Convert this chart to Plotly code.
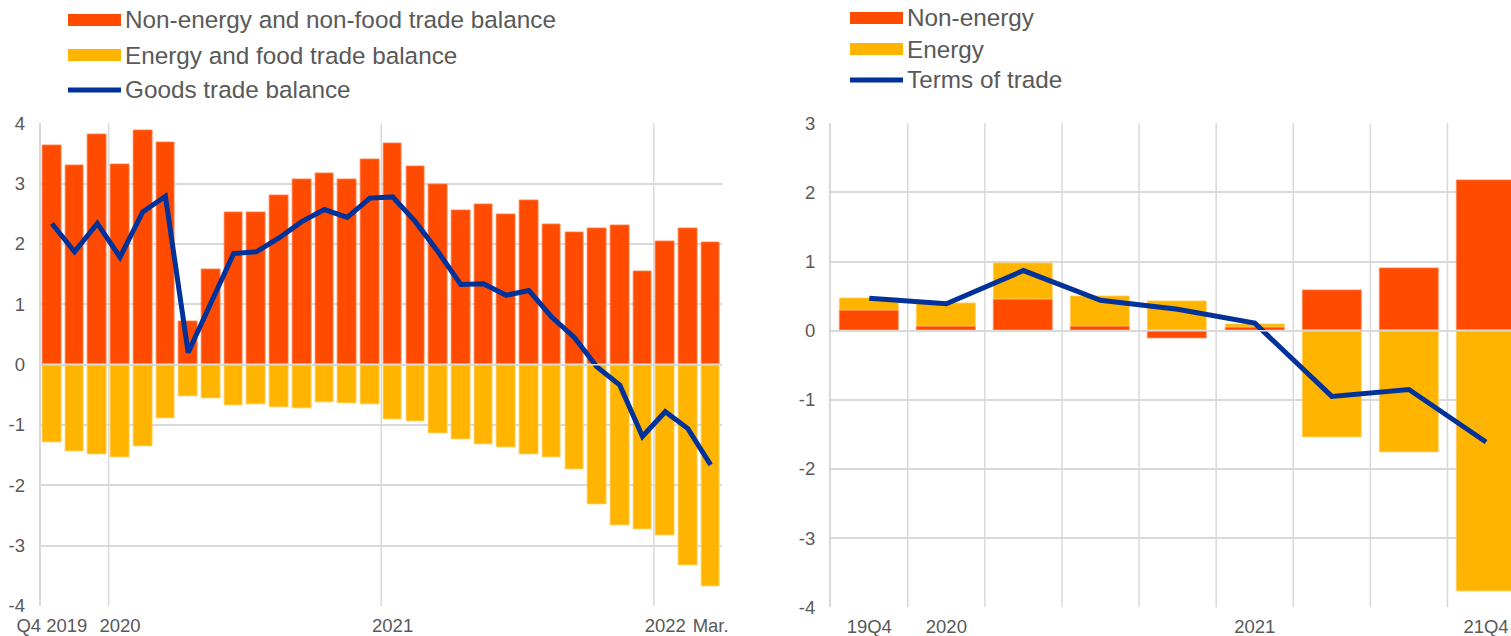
import pandas as pd
import plotly.graph_objects as go

# ---------------- data: left panel (monthly, Oct 2019 - Mar 2022) ----------------
months = pd.date_range("2019-10-01", periods=30, freq="MS").strftime("%Y-%m").tolist()
non_energy_food = [3.63, 3.31, 3.82, 3.32, 3.89, 3.68, 0.72, 1.58, 2.52, 2.52,
                   2.80, 3.07, 3.17, 3.07, 3.41, 3.67, 3.28, 2.99, 2.56, 2.66,
                   2.49, 2.73, 2.32, 2.19, 2.26, 2.31, 1.55, 2.04, 2.26, 2.02]
energy_food = [-1.28, -1.43, -1.49, -1.53, -1.36, -0.89, -0.53, -0.56, -0.68, -0.66,
               -0.71, -0.72, -0.62, -0.64, -0.66, -0.90, -0.94, -1.13, -1.24, -1.32,
               -1.37, -1.49, -1.54, -1.73, -2.31, -2.66, -2.73, -2.83, -3.33, -3.67]
goods_balance = [2.34, 1.87, 2.34, 1.78, 2.53, 2.79, 0.20, 1.03, 1.84, 1.87,
                 2.10, 2.37, 2.57, 2.44, 2.76, 2.78, 2.37, 1.87, 1.33, 1.34,
                 1.15, 1.23, 0.79, 0.45, -0.04, -0.34, -1.19, -0.78, -1.06, -1.66]
left_tick_cats = ["2019-10", "2020-01", "2021-01", "2022-01", "2022-03"]
left_tick_text = ["Q4 2019", "2020", "2021", "2022", "Mar."]
left_year_breaks = [2.5, 14.5, 26.5]
left_y_ticks = [-4, -3, -2, -1, 0, 1, 2, 3, 4]

# ---------------- data: right panel (quarterly) ----------------
quarters = ["19Q4", "20Q1", "20Q2", "20Q3", "20Q4", "21Q1", "21Q2", "21Q3", "21Q4"]
non_energy = [0.30, 0.07, 0.45, 0.07, -0.11, 0.05, 0.58, 0.90, 2.17]
energy = [0.17, 0.32, 0.52, 0.43, 0.42, 0.05, -1.54, -1.76, -3.77]
terms_of_trade = [0.47, 0.39, 0.87, 0.44, 0.31, 0.11, -0.95, -0.85, -1.61]
right_tick_cats = ["19Q4", "20Q1", "21Q1", "21Q4"]
right_tick_text = ["19Q4", "2020", "2021", "21Q4"]
right_breaks = [0.5, 1.5, 2.5, 3.5, 4.5, 5.5, 6.5, 7.5]
right_y_ticks = [-4, -3, -2, -1, 0, 1, 2, 3]

# ---------------- styles ----------------
ORANGE = "#FF4B00"
YELLOW = "#FFB400"
BLUE = "#003299"
GRID = "#d9d9d9"
TXT = "#595959"
FONT = "Liberation Sans, Arial, sans-serif"
W, H = 1511, 636

fig = go.Figure()

# left panel
fig.add_trace(go.Bar(x=months, y=non_energy_food, marker=dict(color=ORANGE, line=dict(color="#ff8a5c", width=0.8)),
                     width=0.82, xaxis="x", yaxis="y", showlegend=False, name="Non-energy and non-food trade balance"))
fig.add_trace(go.Bar(x=months, y=energy_food, marker=dict(color=YELLOW, line=dict(color="#ffd066", width=0.8)),
                     width=0.82, xaxis="x", yaxis="y", showlegend=False, name="Energy and food trade balance"))
fig.add_trace(go.Scatter(x=months, y=goods_balance, mode="lines", line=dict(color=BLUE, width=5),
                         xaxis="x", yaxis="y", showlegend=False, name="Goods trade balance"))

# right panel
fig.add_trace(go.Bar(x=quarters, y=non_energy, marker=dict(color=ORANGE, line=dict(color="#ff8a5c", width=0.8)),
                     width=0.765, xaxis="x2", yaxis="y2", showlegend=False, name="Non-energy"))
fig.add_trace(go.Bar(x=quarters, y=energy, marker=dict(color=YELLOW, line=dict(color="#ffd066", width=0.8)),
                     width=0.765, xaxis="x2", yaxis="y2", showlegend=False, name="Energy"))
fig.add_trace(go.Scatter(x=quarters, y=terms_of_trade, mode="lines", line=dict(color=BLUE, width=5),
                         xaxis="x2", yaxis="y2", showlegend=False, name="Terms of trade"))

tickfont = dict(family=FONT, size=18.5, color=TXT)

def pd_x(px):
    return px / W

def pd_y(py):
    return 1 - py / H

fig.update_layout(
    width=W, height=H, autosize=False,
    margin=dict(l=0, r=0, t=0, b=0, pad=0, autoexpand=False),
    paper_bgcolor="white", plot_bgcolor="white",
    barmode="relative", bargap=0,
    font=dict(family=FONT, color=TXT),
    xaxis=dict(domain=[pd_x(40.5), pd_x(722)], type="category", range=[-0.5, 29.5],
               tickmode="array", tickvals=left_tick_cats, ticktext=left_tick_text,
               showgrid=False, zeroline=False, showline=False, ticks="", automargin=False,
               tickfont=tickfont, ticklabelstandoff=6, anchor="y"),
    yaxis=dict(domain=[pd_y(606), pd_y(123.3)], range=[-4, 4],
               tickmode="array", tickvals=left_y_ticks, ticktext=[str(v) for v in left_y_ticks],
               showgrid=True, gridcolor=GRID, gridwidth=1.5, zeroline=False,
               showline=True, linecolor=GRID, linewidth=1.5, ticks="", automargin=False,
               tickfont=tickfont, ticklabelstandoff=10, anchor="x"),
    xaxis2=dict(domain=[pd_x(830.7), 1.0], type="category", range=[-0.5, 8.324],
                tickmode="array", tickvals=right_tick_cats, ticktext=right_tick_text,
                showgrid=False, zeroline=False, showline=False, ticks="", automargin=False,
                tickfont=tickfont, ticklabelstandoff=6, anchor="y2"),
    yaxis2=dict(domain=[pd_y(607.3), pd_y(123.3)], range=[-4, 3],
                tickmode="array", tickvals=right_y_ticks, ticktext=[str(v) for v in right_y_ticks],
                showgrid=True, gridcolor=GRID, gridwidth=1.5, zeroline=False,
                showline=True, linecolor=GRID, linewidth=1.5, ticks="", automargin=False,
                tickfont=tickfont, ticklabelstandoff=10, anchor="x2"),
)

shapes = []
for b in left_year_breaks:
    shapes.append(dict(type="line", xref="x", yref="y domain", x0=b, x1=b, y0=0, y1=1,
                       line=dict(color=GRID, width=1.5), layer="below"))
for b in right_breaks:
    shapes.append(dict(type="line", xref="x2", yref="y2 domain", x0=b, x1=b, y0=0, y1=1,
                       line=dict(color=GRID, width=1.5), layer="below"))
# zero lines above the bars
shapes.append(dict(type="line", xref="x domain", yref="y", x0=0, x1=1, y0=0, y1=0,
                   line=dict(color=GRID, width=1.5), layer="above"))
shapes.append(dict(type="line", xref="x2 domain", yref="y2", x0=0, x1=1, y0=0, y1=0,
                   line=dict(color=GRID, width=1.5), layer="above"))

# ---------------- legends (drawn manually to match swatch shapes) ----------------
annotations = []

def add_legend(items, sw_x0, sw_x1, text_x, row_y, font_size):
    for (label, color, kind), cy in zip(items, row_y):
        if kind == "bar":
            shapes.append(dict(type="rect", xref="paper", yref="paper",
                               x0=pd_x(sw_x0), x1=pd_x(sw_x1), y0=pd_y(cy + 6), y1=pd_y(cy - 6),
                               fillcolor=color, line=dict(width=0)))
        else:
            shapes.append(dict(type="line", xref="paper", yref="paper",
                               x0=pd_x(sw_x0), x1=pd_x(sw_x1), y0=pd_y(cy), y1=pd_y(cy),
                               line=dict(color=color, width=5)))
        annotations.append(dict(text=label, xref="paper", yref="paper", x=pd_x(text_x), y=pd_y(cy),
                                xanchor="left", yanchor="middle", showarrow=False,
                                font=dict(family=FONT, size=font_size, color=TXT)))

add_legend([("Non-energy and non-food trade balance", ORANGE, "bar"),
            ("Energy and food trade balance", YELLOW, "bar"),
            ("Goods trade balance", BLUE, "line")],
           68, 121, 123, [20, 55, 90], 24.3)
add_legend([("Non-energy", ORANGE, "bar"),
            ("Energy", YELLOW, "bar"),
            ("Terms of trade", BLUE, "line")],
           850, 903, 905, [18, 49, 80], 24.3)

fig.update_layout(shapes=shapes, annotations=annotations)

fig.write_html("out.html", config={"displayModeBar": False},
               post_script="document.body.style.margin='0';document.body.style.overflow='hidden';")
